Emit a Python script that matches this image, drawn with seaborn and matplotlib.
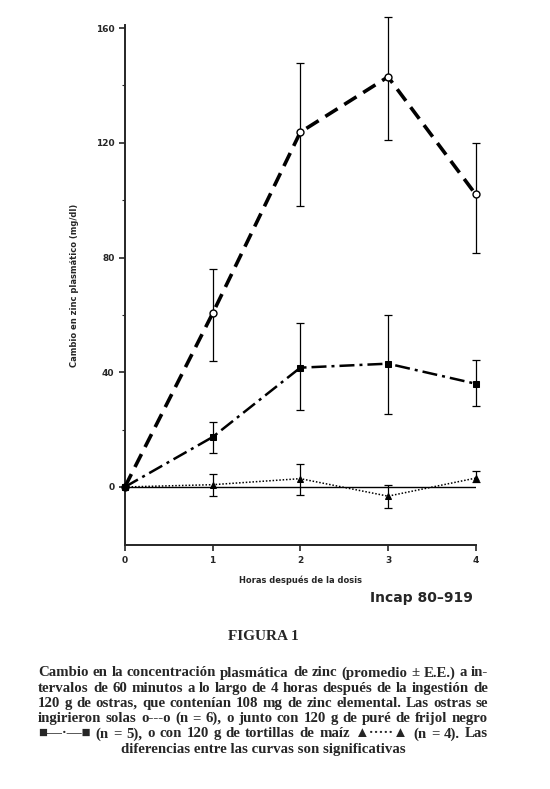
import numpy as np
import matplotlib
matplotlib.use("Agg")
import matplotlib.pyplot as plt
import seaborn as sns

# values (change in plasma zinc, mg/dl)
hours = np.array([0, 1, 2, 3, 4])
ostras = np.array([0, 60.5, 123.7, 143, 102])
ostras_lo = np.array([44, 98, 121, 81.5])
ostras_hi = np.array([76, 148, 164, 120])

frijol = np.array([0, 17.4, 41.6, 43, 36])
frijol_lo = np.array([12, 27, 25.6, 28.1])
frijol_hi = np.array([22.6, 57.1, 60, 44.4])

tortilla = np.array([0, 0.8, 2.9, -3.2, 3.1])
tortilla_lo = np.array([-3.2, -2.9, -7.3, 1.7])
tortilla_hi = np.array([4.7, 8.1, 0.8, 5.6])

y_major = [0, 40, 80, 120, 160]
y_minor = [20, 60, 100, 140]

caption = [
    "Cambio en la concentración plasmática de zinc (promedio ± E.E.) a in-",
    "tervalos de 60 minutos a lo largo de 4 horas después de la ingestión de",
    "120 g de ostras, que contenían 108 mg de zinc elemental. Las ostras se",
    "ingirieron solas o---o (n = 6), o junto con 120 g de puré de frijol negro",
    "■—·—■ (n = 5), o con 120 g de tortillas de maíz ▲·····▲ (n = 4). Las",
    "diferencias entre las curvas son significativas",
]

sns.set_style("ticks")
plt.rcParams["font.family"] = ["DejaVu Sans"]

fig = plt.figure(figsize=(5.5, 7.89), dpi=100)
ax = fig.add_axes([0.227, 0.309, 0.638, 0.659])

# horizontal zero line
ax.axhline(0, color="k", lw=1.0, zorder=1)


def bars(y, lo, hi):
    eb = ax.errorbar(hours[1:], y[1:], yerr=[np.abs(y[1:] - lo), np.abs(hi - y[1:])],
                     fmt="none", ecolor="k", elinewidth=0.9, capsize=3, capthick=0.9)
    for art in eb.lines[1] + eb.lines[2]:
        art.set_clip_on(False)


bars(ostras, ostras_lo, ostras_hi)
bars(frijol, frijol_lo, frijol_hi)
bars(tortilla, tortilla_lo, tortilla_hi)

# curves
sns.lineplot(x=hours, y=ostras, ax=ax, color="k", lw=2.6, linestyle=(0, (4, 2.2)),
             marker="o", markersize=5, markerfacecolor="white",
             markeredgecolor="k", markeredgewidth=1.0, zorder=4, clip_on=False)
sns.lineplot(x=hours, y=frijol, ax=ax, color="k", lw=1.8,
             linestyle=(0, (6, 2, 1.2, 2)), marker="s", markersize=4.5,
             markeredgecolor="k", zorder=4, clip_on=False)
sns.lineplot(x=hours[1:], y=tortilla[1:], ax=ax, color="k", lw=0, marker="^",
             markersize=5, markeredgecolor="k", zorder=4, clip_on=False)
sns.lineplot(x=hours, y=tortilla, ax=ax, color="k", lw=1.1,
             linestyle=(0, (1, 1.2)), zorder=3, clip_on=False)

ax.set_xlim(0, 4)
ax.set_ylim(-20.3, 161)
ax.set_xticks(hours)
ax.set_yticks(y_major)
ax.set_yticks(y_minor, minor=True)
ax.tick_params(axis="both", which="major", direction="out", length=4, width=1.2,
               labelsize=6.5)
ax.tick_params(axis="y", which="minor", direction="out", length=2, width=0.8)
for lab in ax.get_xticklabels() + ax.get_yticklabels():
    lab.set_fontweight("bold")
sns.despine(ax=ax)
ax.spines["left"].set_linewidth(1.4)
ax.spines["bottom"].set_linewidth(1.4)

ax.set_xlabel("Horas después de la dosis", fontsize=6, fontweight="bold", labelpad=8)
ax.set_ylabel("Cambio en zinc plasmático (mg/dl)", fontsize=6, fontweight="bold")
ax.yaxis.set_label_coords(-0.13, 0.5)

fig.text(0.86, 1 - 598 / 789, "Incap 80–919", fontsize=10, fontweight="bold",
         ha="right", va="center")

fig.text(263 / 550, 1 - 637 / 789, "FIGURA 1", fontsize=11, ha="center", va="center",
         family=["Liberation Serif"], fontweight="semibold")

# justified caption
cap_kw = dict(fontsize=10.75, va="center", fontweight="bold",
              family=["Liberation Serif", "DejaVu Sans"])
left_px, right_px = 38, 488
y0 = 673
renderer = fig.canvas.get_renderer()
for i, line in enumerate(caption):
    yf = 1 - (y0 + i * 15.2) / 789
    if i == len(caption) - 1:
        fig.text(263 / 550, yf, line, ha="center", **cap_kw)
        continue
    words = line.split(" ")
    arts = [fig.text(0, yf, w, ha="left", **cap_kw) for w in words]
    widths = [a.get_window_extent(renderer).width for a in arts]
    gap = (right_px - left_px - sum(widths)) / (len(words) - 1)
    x = left_px
    for a, w in zip(arts, widths):
        a.set_x(x / 550)
        x += w + gap

fig.savefig("out.png", dpi=100, facecolor="white")
